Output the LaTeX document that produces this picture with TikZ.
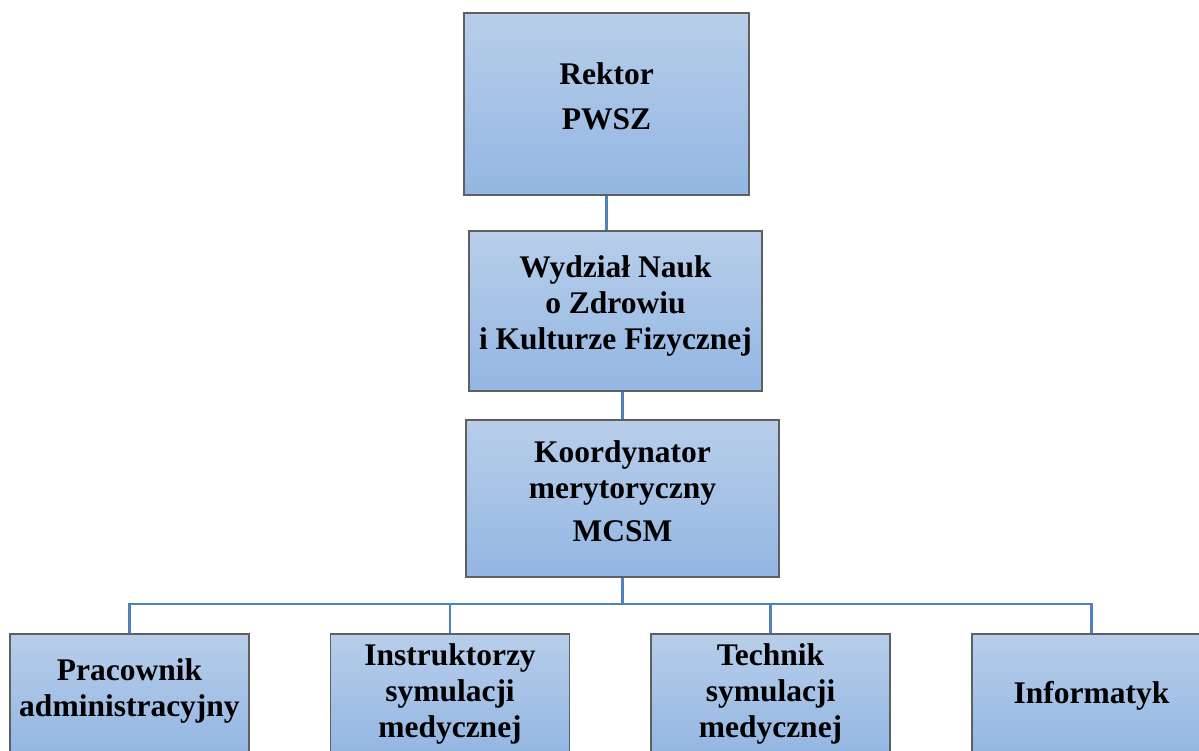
\documentclass[tikz,border=0pt]{standalone}
\usepackage{fontspec}
\setmainfont{Liberation Serif}
\usetikzlibrary{positioning}
\definecolor{boxtop}{RGB}{184,206,234}
\definecolor{boxbot}{RGB}{147,182,226}
\definecolor{boxline}{RGB}{95,95,95}
\definecolor{linkblue}{RGB}{79,129,189}
\tikzset{
  unit/.style={draw=boxline, line width=1.2pt, top color=boxtop, bottom color=boxbot,
    align=center, inner sep=0pt, font=\fontsize{31.5}{36}\selectfont\bfseries},
  staff/.style={unit, minimum width=239pt, minimum height=120pt},
  link/.style={draw=linkblue, line width=2.5pt},
}
\begin{document}
\begin{tikzpicture}[x=1pt, y=-1pt]
\useasboundingbox (0,0) rectangle (1199,751);
\clip (0,0) rectangle (1199,751);
% top of the chart
\node[unit, minimum width=285pt, minimum height=182pt, text depth=16pt] (rektor) at (606.5,104) {Rektor\\[9pt]PWSZ};
\node[unit, minimum width=293pt, minimum height=160pt, text depth=16pt] (wydzial) at (615.5,311) {Wydział Nauk\\o Zdrowiu\\i Kulturze Fizycznej};
\node[unit, minimum width=313pt, minimum height=157pt, text depth=14pt] (koord) at (622.5,498.5) {Koordynator\\merytoryczny\\[7pt]MCSM};
% staff
\node[staff, text depth=13pt] (admin) at (129.5,694) {Pracownik\\administracyjny};
\node[staff] (instr) at (450,694) {Instruktorzy\\symulacji\\medycznej};
\node[staff] (tech) at (770.5,694) {Technik\\symulacji\\medycznej};
\node[staff, text depth=4pt] (info) at (1091.5,694) {Informatyk};
% connectors
\coordinate (bus) at (622.5,604);
\draw[link] (rektor.south) -- (rektor.south |- wydzial.north);
\draw[link] (koord.north |- wydzial.south) -- (koord.north);
\draw[link] (koord.south) -- (bus);
\draw[link] (admin.north) -- (admin.north |- bus) -- (info.north |- bus) -- (info.north);
\draw[link] (instr.north) -- (instr.north |- bus);
\draw[link] (tech.north) -- (tech.north |- bus);
\end{tikzpicture}
\end{document}
